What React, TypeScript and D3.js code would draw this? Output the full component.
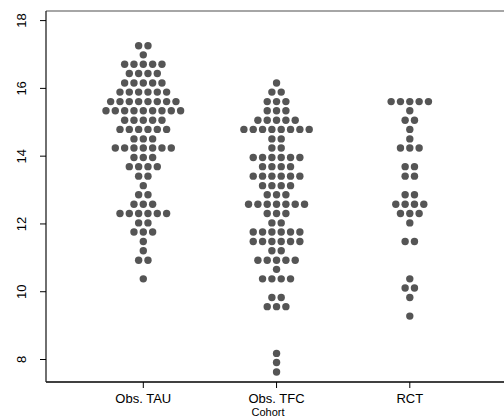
import React from "react";
import * as d3 from "d3";

const categories = ["Obs. TAU", "Obs. TFC", "RCT"];

const obsTau = [
  17.26, 17.26,
  16.99,
  16.71, 16.71, 16.71, 16.71, 16.71,
  16.44, 16.44, 16.44, 16.44,
  16.16, 16.16, 16.16, 16.16, 16.16,
  15.89, 15.89, 15.89, 15.89, 15.89, 15.89,
  15.61, 15.61, 15.61, 15.61, 15.61, 15.61, 15.61, 15.61,
  15.34, 15.34, 15.34, 15.34, 15.34, 15.34, 15.34, 15.34, 15.34,
  15.06, 15.06, 15.06, 15.06, 15.06,
  14.79, 14.79, 14.79, 14.79, 14.79, 14.79,
  14.51, 14.51, 14.51,
  14.24, 14.24, 14.24, 14.24, 14.24, 14.24, 14.24,
  13.96, 13.96, 13.96,
  13.69, 13.69, 13.69, 13.69,
  13.41, 13.41,
  13.13,
  12.86, 12.86,
  12.58, 12.58, 12.58,
  12.31, 12.31, 12.31, 12.31, 12.31, 12.31,
  12.03, 12.03,
  11.76, 11.76, 11.76,
  11.48,
  11.21,
  10.93, 10.93,
  10.38,
];

const obsTfc = [
  16.16,
  15.89, 15.89,
  15.61, 15.61, 15.61,
  15.34, 15.34, 15.34,
  15.06, 15.06, 15.06, 15.06, 15.06,
  14.79, 14.79, 14.79, 14.79, 14.79, 14.79, 14.79, 14.79,
  14.51, 14.51,
  14.24, 14.24,
  13.96, 13.96, 13.96, 13.96, 13.96, 13.96,
  13.69, 13.69, 13.69, 13.69,
  13.41, 13.41, 13.41, 13.41, 13.41, 13.41,
  13.13, 13.13, 13.13, 13.13,
  12.86, 12.86, 12.86,
  12.58, 12.58, 12.58, 12.58, 12.58, 12.58, 12.58,
  12.31, 12.31, 12.31,
  12.03, 12.03,
  11.76, 11.76, 11.76, 11.76, 11.76, 11.76,
  11.48, 11.48, 11.48, 11.48, 11.48, 11.48,
  11.21, 11.21,
  10.93, 10.93, 10.93, 10.93, 10.93,
  10.66,
  10.38, 10.38, 10.38, 10.38,
  9.83, 9.83,
  9.56, 9.56, 9.56,
  8.18,
  7.91,
  7.63,
];

const rct = [
  15.61, 15.61, 15.61, 15.61, 15.61,
  15.34,
  15.06, 15.06,
  14.79,
  14.51,
  14.24, 14.24, 14.24,
  13.69, 13.69,
  13.41, 13.41,
  12.86, 12.86,
  12.58, 12.58, 12.58, 12.58,
  12.31, 12.31, 12.31,
  12.03,
  11.48, 11.48,
  10.38,
  10.11, 10.11,
  9.83,
  9.28,
];

const seriesValues = [obsTau, obsTfc, rct];
const yTicks = [8, 10, 12, 14, 16, 18];
const xTitle = "Cohort";

const W = 504;
const H = 419;
const left = 46;
const top = 11;
const bottom = 382;
const dotSpacing = 9.33;
const dotR = 3.7;
const dotColor = "#555555";

export default function App() {
  const y = d3.scaleLinear().domain([8, 18]).range([359.5, 20.6]);
  const x = d3.scalePoint<string>().domain(categories).range([143.3, 409.8]);

  const points: { cx: number; cy: number; key: string }[] = [];
  categories.forEach((cat, gi) => {
    const rows = d3.group(seriesValues[gi], (v) => v);
    rows.forEach((vals, v) => {
      const n = vals.length;
      vals.forEach((_, i) => {
        points.push({
          cx: (x(cat) as number) + (i - (n - 1) / 2) * dotSpacing,
          cy: y(v),
          key: `${gi}-${v}-${i}`,
        });
      });
    });
  });

  const font = "Liberation Sans, Arial, sans-serif";

  return (
    <svg
      width={W}
      height={H}
      style={{ position: "absolute", left: 0, top: 0, background: "#fff" }}
      fontFamily={font}
    >
      {/* frame */}
      <line x1={left} x2={W} y1={top} y2={top} stroke="#888" strokeWidth={1.3} />
      <line x1={left} x2={W} y1={bottom} y2={bottom} stroke="#000" strokeWidth={1.3} />
      <line x1={left} x2={left} y1={top} y2={bottom} stroke="#222" strokeWidth={1.3} />

      {/* y axis */}
      {yTicks.map((t) => (
        <g key={t}>
          <line x1={left - 6} x2={left} y1={y(t)} y2={y(t)} stroke="#000" strokeWidth={1} />
          <text
            transform={`translate(25.5,${y(t)}) rotate(-90)`}
            textAnchor="middle"
            fontSize={13}
            fill="#000"
          >
            {t}
          </text>
        </g>
      ))}

      {/* x axis */}
      {categories.map((c) => (
        <g key={c}>
          <line x1={x(c)} x2={x(c)} y1={bottom} y2={bottom + 6} stroke="#000" strokeWidth={1} />
          <text x={x(c)} y={403} textAnchor="middle" fontSize={13} fill="#000">
            {c}
          </text>
        </g>
      ))}
      <text x={268} y={416.3} textAnchor="middle" fontSize={11} fill="#000">
        {xTitle}
      </text>

      {points.map((p) => (
        <circle key={p.key} cx={p.cx} cy={p.cy} r={dotR} fill={dotColor} />
      ))}
    </svg>
  );
}
